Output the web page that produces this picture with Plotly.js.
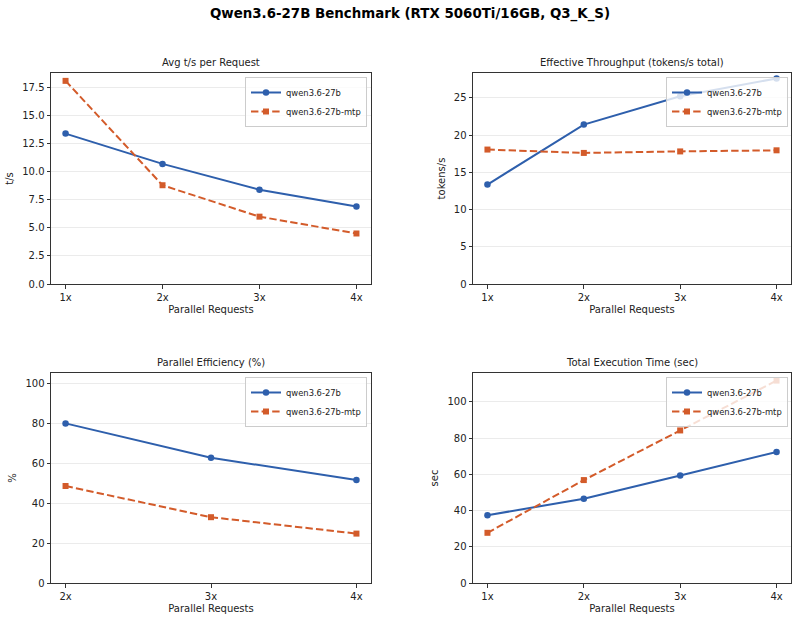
<!DOCTYPE html>
<html>
<head>
<meta charset="utf-8">
<script src="https://cdn.plot.ly/plotly-3.0.1.min.js"></script>
<style>html,body{margin:0;padding:0;background:#fff;}#chart{width:800px;height:622px;}</style>
</head>
<body>
<div id="chart"></div>
<script>
// ---- data ----
const levels4 = ['1x', '2x', '3x', '4x'];
const levels3 = ['2x', '3x', '4x'];
const seriesNames = ['qwen3.6-27b', 'qwen3.6-27b-mtp'];

const avgTpsBase = [13.4, 10.7, 8.4, 6.9];
const avgTpsMtp = [18.1, 8.8, 6.0, 4.5];

const throughputBase = [13.35, 21.4, 25.2, 27.6];
const throughputMtp = [18.05, 17.6, 17.8, 17.95];

const efficiencyBase = [79.8, 62.6, 51.5];
const efficiencyMtp = [48.5, 32.9, 24.7];

const execTimeBase = [37.4, 46.5, 59.3, 72.3];
const execTimeMtp = [27.7, 56.8, 84.2, 111.7];

// ---- styling ----
const FONT = 'DejaVu Sans, Liberation Sans, sans-serif';
const BLUE = '#2E5FAC';
const ORANGE = '#D35B2A';
const AXC = '#333333';

function pair(x, yb, ym, xa, ya, leg) {
  return [
    {x: x, y: yb, name: seriesNames[0], type: 'scatter', mode: 'lines+markers',
     xaxis: xa, yaxis: ya, legend: leg,
     line: {color: BLUE, width: 2}, marker: {color: BLUE, size: 6.5, symbol: 'circle'}},
    {x: x, y: ym, name: seriesNames[1], type: 'scatter', mode: 'lines+markers',
     xaxis: xa, yaxis: ya, legend: leg,
     line: {color: ORANGE, width: 2, dash: '7.4px,3.2px'}, marker: {color: ORANGE, size: 6, symbol: 'square'}}
  ];
}

const data = [].concat(
  pair(levels4, avgTpsBase, avgTpsMtp, 'x', 'y', 'legend'),
  pair(levels4, throughputBase, throughputMtp, 'x2', 'y2', 'legend2'),
  pair(levels3, efficiencyBase, efficiencyMtp, 'x3', 'y3', 'legend3'),
  pair(levels4, execTimeBase, execTimeMtp, 'x4', 'y4', 'legend4')
);

const colL = [51/800, 371/800];
const colR = [473/800, 791/800];
const rowT = [(622-284)/622, (622-73)/622];
const rowB = [(622-583)/622, (622-373)/622];

function xax(dom, anchor, n) {
  return {domain: dom, anchor: anchor, type: 'category', range: [-0.05*(n-1), (n-1)*1.05],
    showline: true, mirror: true, linecolor: AXC, linewidth: 1,
    ticks: 'outside', ticklen: 3.5, tickcolor: AXC, showgrid: false, zeroline: false,
    tickfont: {family: FONT, size: 10, color: '#222'},
    title: {text: 'Parallel Requests', font: {family: FONT, size: 10, color: '#222'}, standoff: 4},
    fixedrange: true};
}
function yax(dom, anchor, range, dtick, fmt, label) {
  return {domain: dom, anchor: anchor, range: range, dtick: dtick, tick0: 0, tickformat: fmt,
    showline: true, mirror: true, linecolor: AXC, linewidth: 1,
    ticks: 'outside', ticklen: 3.5, tickcolor: AXC,
    showgrid: true, gridcolor: '#ebebeb', gridwidth: 1, zeroline: false,
    tickfont: {family: FONT, size: 10, color: '#222'},
    title: {text: label, font: {family: FONT, size: 10, color: '#222'}, standoff: 6},
    fixedrange: true};
}
function leg(xr, ytop) {
  return {x: xr, y: ytop, xanchor: 'right', yanchor: 'top', xref: 'paper', yref: 'paper',
    bgcolor: 'rgba(255,255,255,0.8)', bordercolor: '#cccccc', borderwidth: 1,
    font: {family: FONT, size: 8.4, color: '#222'}, tracegroupgap: 0, itemwidth: 30};
}

function subTitle(text, dom, ytop) {
  return {text: text, x: (dom[0]+dom[1])/2, y: ytop, xref: 'paper', yref: 'paper',
    xanchor: 'center', yanchor: 'bottom', showarrow: false,
    font: {family: FONT, size: 10, color: '#222'}};
}

const layout = {
  width: 800, height: 622,
  margin: {l: 0, r: 0, t: 0, b: 0},
  paper_bgcolor: '#ffffff', plot_bgcolor: '#ffffff',
  font: {family: FONT, color: '#222'},
  title: {text: '<b>Qwen3.6-27B Benchmark (RTX 5060Ti/16GB, Q3_K_S)</b>', x: 410/800, xanchor: 'center',
    y: 1 - 13/622, yanchor: 'middle', font: {family: FONT, size: 13.4, color: '#000'}},
  xaxis: xax(colL, 'y', 4),
  yaxis: yax(rowT, 'x', [0, 18.8], 2.5, '.1f', 't/s'),
  xaxis2: xax(colR, 'y2', 4),
  yaxis2: yax(rowT, 'x2', [0, 28.33], 5, 'd', 'tokens/s'),
  xaxis3: xax(colL, 'y3', 3),
  yaxis3: yax(rowB, 'x3', [0, 105], 20, 'd', '%'),
  xaxis4: xax(colR, 'y4', 4),
  yaxis4: yax(rowB, 'x4', [0, 115.9], 20, 'd', 'sec'),
  legend: leg(367/800, (622-77)/622),
  legend2: leg(788/800, (622-77)/622),
  legend3: leg(367/800, (622-377)/622),
  legend4: leg(788/800, (622-377)/622),
  showlegend: true,
  annotations: [
    subTitle('Avg t/s per Request', colL, rowT[1] + 3/622),
    subTitle('Effective Throughput (tokens/s total)', colR, rowT[1] + 3/622),
    subTitle('Parallel Efficiency (%)', colL, rowB[1] + 3/622),
    subTitle('Total Execution Time (sec)', colR, rowB[1] + 3/622)
  ]
};

Plotly.newPlot('chart', data, layout, {displayModeBar: false, staticPlot: true});
</script>
</body>
</html>
